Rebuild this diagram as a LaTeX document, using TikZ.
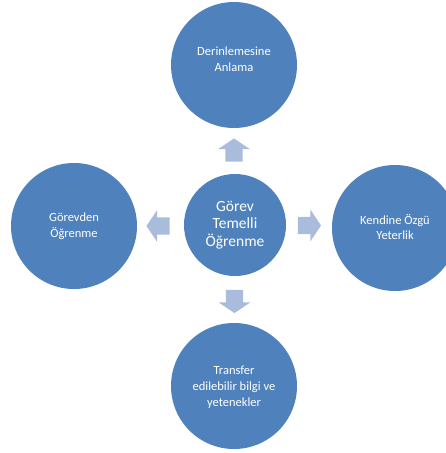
\documentclass[tikz,border=0pt]{standalone}
\usepackage{fontspec}
\setmainfont{Carlito}
\usetikzlibrary{shapes.arrows}
\definecolor{circblue}{HTML}{4F81BD}
\definecolor{arrowblue}{HTML}{A9BCDC}
\begin{document}
\begin{tikzpicture}[x=1pt,y=-1pt,
  bigcirc/.style={circle,fill=circblue,draw=none,minimum size=126pt,inner sep=0pt},
  hubcirc/.style={circle,fill=circblue,draw=none,minimum size=102pt,inner sep=0pt,
    text=white,align=center,font=\fontsize{15.5}{17.5}\selectfont},
  circtext/.style={text=white,align=center,font=\fontsize{12.5}{15.5}\selectfont},
  blockarrow/.style={single arrow,fill=arrowblue,draw=none,minimum width=31pt,
    minimum height=22pt,single arrow head extend=7pt,inner sep=8.5pt,
    single arrow tip angle=112}]
\useasboundingbox (0,0) rectangle (446,453);
\begin{scope}
\clip (0,0) rectangle (446,453);
\node[hubcirc] (hub) at (235,225) {Görev\\Temelli\\Öğrenme};
\node[bigcirc] (top) at (234,65) {};
\node[bigcirc] (left) at (74,226) {};
\node[bigcirc] (right) at (395,228) {};
\node[bigcirc] (bottom) at (234,386) {};
\node[circtext] (toptext) at (234,59) {Derinlemesine\\Anlama};
\node[circtext] (lefttext) at (74,226) {Görevden\\Öğrenme};
\node[circtext] (righttext) at (395,227) {Kendine Özgü\\Yeterlik};
\node[circtext,font=\fontsize{12.5}{16}\selectfont] (bottomtext) at (234,387) {Transfer\\edilebilir bilgi ve\\yetenekler};
\node[blockarrow,rotate=90] (aup) at (234,153) {};
\node[blockarrow,rotate=180] (aleft) at (161,226) {};
\node[blockarrow] (aright) at (306.5,225.5) {};
\node[blockarrow,rotate=-90] (adown) at (234.5,298.5) {};
\end{scope}
\end{tikzpicture}
\end{document}
